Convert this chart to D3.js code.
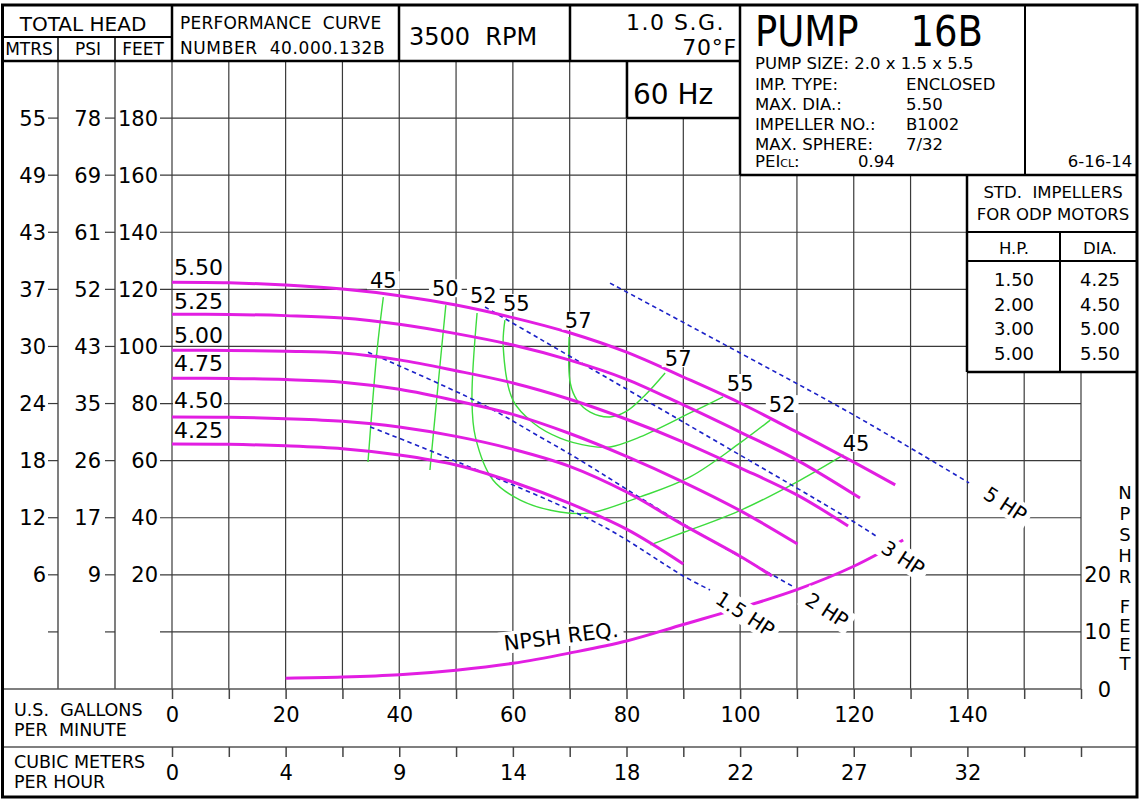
<!DOCTYPE html>
<html><head><meta charset="utf-8">
<script src="https://cdn.jsdelivr.net/npm/d3@7"></script>
<style>
html,body{margin:0;padding:0;background:#fff;}
svg{display:block;font-family:"DejaVu Sans",Verdana,sans-serif;}
text{white-space:pre;fill:#000;}
</style></head><body>
<svg id="c" width="1140" height="800"></svg>
<script>
// ---------------- DATA ----------------
const gpmGrid = [0,10,20,30,40,50,60,70,80,90,100,110,120,130,140,150,160];
const gpmLabels = [0,20,40,60,80,100,120,140];
const cmhLabels = ["0","4","9","14","18","22","27","32"];
const headGrid = [180,160,140,120,100,80,60,40,20,0];
const feetLabels = ["180","160","140","120","100","80","60","40","20",""];
const mtrsLabels = ["55","49","43","37","30","24","18","12","6",""];
const psiLabels  = ["78","69","61","52","43","35","26","17","9",""];
const npshTicks = [20,10,0];

const diameters = ["5.50","5.25","5.00","4.75","4.50","4.25"];
const head550 = [[0,122.5],[10,122.3],[20,121.5],[30,120.1],[40,117.8],[50,114.5],[60,110.1],[70,104.8],[80,98.0],[90,89.3],[100,80.2],[110,70.0],[120,59.5],[127.3,51.5]];
const head525 = [[0,111.3],[10,111.2],[20,110.8],[30,110.0],[40,107.8],[50,104.5],[60,100.5],[70,95.2],[80,88.5],[90,79.5],[100,70.0],[110,60.2],[121.1,46.9]];
const head500 = [[0,98.7],[10,98.6],[20,98.3],[30,97.7],[40,95.3],[50,91.5],[60,87.2],[70,81.5],[80,74.5],[90,66.5],[100,57.5],[110,48.0],[119,37.1]];
const head475 = [[0,88.9],[10,88.8],[20,88.4],[30,87.5],[40,85.0],[50,81.0],[60,76.2],[70,69.5],[80,61.5],[90,52.5],[100,42.5],[110.1,30.8]];
const head450 = [[0,75.3],[10,75.2],[20,74.7],[30,73.8],[40,71.8],[50,68.5],[60,64.0],[70,58.0],[80,49.0],[90,37.5],[100,26.5],[105.6,19.6]];
const head425 = [[0,65.8],[10,65.7],[20,65.2],[30,64.2],[40,62.0],[50,58.5],[60,52.5],[70,45.0],[80,36.0],[90,23.8]];
const headCurves = [head550,head525,head500,head475,head450,head425];

const eff45L = [[37.2,117.3],[36.1,98.7],[34.5,59.5]];
const eff50L = [[48.2,114.5],[47.0,90.0],[45.4,56.7]];
const eff52  = [[53.7,111.7],[52.8,81.2],[53.4,68.3],[56.5,53.2],[61.3,46.2],[68.3,42.0],[73.6,41.7],[82.4,47.3],[91.2,54.3],[100.0,66.2],[105.3,74.2]];
const eff55  = [[58.6,109.2],[58.3,99.8],[60.0,81.2],[63.6,73.2],[68.3,67.9],[73.6,65.1],[77.1,64.8],[82.4,68.3],[91.2,76.7],[97.0,82.3]];
const eff57  = [[69.9,103.3],[70.1,87.2],[71.3,81.2],[73.6,77.0],[77.1,75.3],[80.1,77.4],[83.3,83.0],[86.8,90.7]];
const eff45R = [[84.2,30.5],[90.2,35.0],[100.2,42.7],[110.6,53.2],[118.2,62.0]];
const effCurves = [eff45L,eff50L,eff52,eff55,eff57,eff45R];
const effTexts = ["45","50","52","55","57","57","55","52","45"];

const hp5  = [[77.1,122.2],[100,97.7],[120,76.0],[140.3,52.2]];
const hp3  = [[55.1,113.8],[64.8,102.6],[90,73.5],[118.9,39.9],[124,33.5]];
const hp2  = [[34.5,98.0],[54.2,80.2],[64.8,68.3],[71.8,60.2],[88.2,39.9],[109.4,15.8]];
const hp15 = [[34.9,71.8],[50.7,59.2],[75.4,37.5],[90.0,19.6],[94.7,14.7]];
const hpCurves = [hp5,hp3,hp2,hp15];
const hpTexts = ["5 HP","3 HP","2 HP","1.5 HP"];

const npsh = [[20,1.9],[30,2.1],[40,2.5],[50,3.3],[60,4.5],[70,6.3],[80,8.4],[90,11.3],[100,14.2],[110,17.4],[120,21.5],[128.7,26.1]];

const stdHP  = ["1.50","2.00","3.00","5.00"];
const stdDia = ["4.25","4.50","5.00","5.50"];
const infoLabels = ["IMP. TYPE:","MAX. DIA.:","IMPELLER NO.:","MAX. SPHERE:"];
const infoValues = ["ENCLOSED","5.50","B1002","7/32"];

// ---------------- SCALES ----------------
const svg = d3.select("#c");
const x  = d3.scaleLinear().domain([0,160]).range([172,1081]);
const y  = d3.scaleLinear().domain([-20,200]).range([689,61]);
const yN = d3.scaleLinear().domain([0,110]).range([689,61]);

const GRID = "#3a3a3a";

// ---------------- GRID ----------------
const gV = svg.append("g").attr("stroke",GRID).attr("stroke-width",1.2);
gpmGrid.forEach(q=>{
  let top = 61;
  if (q===90) top = 118;
  if (q>=100 && q<=140) top = 175;
  if (q>140) top = 372;
  gV.append("line").attr("x1",x(q)).attr("x2",x(q)).attr("y1",top).attr("y2",689);
});
const gH = svg.append("g").attr("stroke",GRID).attr("stroke-width",1.2);
headGrid.forEach(h=>{
  let right = 1081;
  if (h>=160) right = 740; else if (h>=100) right = 967;
  gH.append("line").attr("x1",160).attr("x2",right).attr("y1",y(h)).attr("y2",y(h));
  gH.append("line").attr("x1",48).attr("x2",58).attr("y1",y(h)).attr("y2",y(h));
  gH.append("line").attr("x1",105).attr("x2",115).attr("y1",y(h)).attr("y2",y(h));
});
svg.append("line").attr("x1",58).attr("x2",58).attr("y1",37).attr("y2",689).attr("stroke",GRID).attr("stroke-width",1.3);
svg.append("line").attr("x1",115).attr("x2",115).attr("y1",37).attr("y2",689).attr("stroke",GRID).attr("stroke-width",1.3);

// left labels
const gL = svg.append("g").attr("font-size",21);
headGrid.forEach((h,i)=>{
  const py = y(h)+7.5;
  gL.append("text").attr("x",46).attr("y",py).attr("text-anchor","end").text(mtrsLabels[i]);
  gL.append("text").attr("x",101).attr("y",py).attr("text-anchor","end").text(psiLabels[i]);
  gL.append("text").attr("x",158).attr("y",py).attr("text-anchor","end").text(feetLabels[i]);
});

// bottom lines
svg.append("line").attr("x1",2).attr("x2",1081).attr("y1",689).attr("y2",689).attr("stroke","#555").attr("stroke-width",1.6);
svg.append("line").attr("x1",2).attr("x2",1137).attr("y1",747).attr("y2",747).attr("stroke","#555").attr("stroke-width",1.6);

// bottom axes
const ax1 = svg.append("g").attr("transform","translate(0,689)")
  .call(d3.axisBottom(x).tickValues(gpmGrid).tickSize(10).tickPadding(8)
    .tickFormat(d=> gpmLabels.includes(d) ? String(d) : ""));
const ax2 = svg.append("g").attr("transform","translate(0,747)")
  .call(d3.axisBottom(x).tickValues(gpmGrid).tickSize(10).tickPadding(8)
    .tickFormat(d=> { const i = gpmLabels.indexOf(d); return i>=0 ? cmhLabels[i] : ""; }));
[ax1,ax2].forEach(a=>{
  a.select(".domain").remove();
  a.attr("font-family","DejaVu Sans").attr("font-size",21);
  a.selectAll(".tick line").attr("stroke","#444").attr("stroke-width",1.5);
  a.selectAll(".tick text").attr("fill","#000");
});
const gB = svg.append("g").attr("font-size",17.5);
gB.append("text").attr("x",14).attr("y",716).text("U.S.  GALLONS");
gB.append("text").attr("x",14).attr("y",736).text("PER  MINUTE");
gB.append("text").attr("x",14).attr("y",768).text("CUBIC METERS");
gB.append("text").attr("x",14).attr("y",788).text("PER HOUR");

// NPSH right axis
const gR = svg.append("g").attr("font-size",21);
npshTicks.forEach(v=>{
  gR.append("text").attr("x",1111).attr("y",yN(v)+7.5).attr("text-anchor","end").text(String(v));
});
const letters = [["N",492],["P",513],["S",534],["H",555],["R",576],["F",606],["E",625],["E",644],["T",663]];
const gLet = svg.append("g").attr("font-size",18).attr("text-anchor","middle");
letters.forEach(([c,py])=> gLet.append("text").attr("x",1125).attr("y",py+6.5).text(c));

// ---------------- CURVES ----------------
const line = d3.line().x(d=>x(d[0])).y(d=>y(d[1])).curve(d3.curveCatmullRom.alpha(0.5));
const lineN = d3.line().x(d=>x(d[0])).y(d=>yN(d[1])).curve(d3.curveCatmullRom.alpha(0.5));

svg.append("g").selectAll("path").data(effCurves).join("path")
  .attr("d",line).attr("fill","none").attr("stroke","#3ddc3d").attr("stroke-width",1.4);
svg.append("g").selectAll("path").data(hpCurves).join("path")
  .attr("d",line).attr("fill","none").attr("stroke","#1c22c8").attr("stroke-width",1.6)
  .attr("stroke-dasharray","4.5,3.5");
svg.append("g").selectAll("path").data(headCurves).join("path")
  .attr("d",line).attr("fill","none").attr("stroke","#e21ee2").attr("stroke-width",3);
svg.append("path").datum(npsh).attr("d",lineN).attr("fill","none").attr("stroke","#e21ee2").attr("stroke-width",3);

// ---------------- LABELS with knockouts ----------------
function ko(px, py, txt, fs, rot, anchor, padX, padY){
  const g = svg.append("g").attr("transform",`translate(${px},${py}) rotate(${rot||0})`);
  const r = g.append("rect").attr("fill","#fff");
  const t = g.append("text").attr("font-size",fs).attr("text-anchor",anchor||"middle").attr("y",0.365*fs).text(txt);
  const b = t.node().getBBox();
  r.attr("x",b.x-padX).attr("width",b.width+2*padX).attr("y",-0.38*fs-padY).attr("height",0.76*fs+2*padY);
  return g;
}
const diaBase = [275,309,343,371,408,438];
diameters.forEach((d,i)=> ko(174, diaBase[i]-8, d, 22, 0, "start", 1, 1));

const effPos = [[37.2,123.2],[48.1,120.4],[54.8,118.0],[60.6,115.2],[71.5,109.0],[89.1,95.9],[100.0,87.2],[107.4,79.8],[120.4,66.2]];
effTexts.forEach((t,i)=> ko(x(effPos[i][0]), y(effPos[i][1]), t, 21, 0, "middle", 3, 1));

const hpPos = [[146.7,44.8],[128.7,25.9],[115.3,7.7],[100.9,6.3]];
hpTexts.forEach((t,i)=> ko(x(hpPos[i][0]), y(hpPos[i][1]), t, 20, 33, "middle", 5, 4));

ko(561, 636, "NPSH REQ.", 21, -7, "middle", 5, 3);

// ---------------- HEADER & BOXES ----------------
const K = "#000";
function ln(x1,y1,x2,y2,w){ svg.append("line").attr("x1",x1).attr("y1",y1).attr("x2",x2).attr("y2",y2).attr("stroke",K).attr("stroke-width",w||2.5); }

svg.append("rect").attr("x",2).attr("y",5).attr("width",738).attr("height",56).attr("fill","#fff");
svg.append("rect").attr("x",740).attr("y",5).attr("width",397).attr("height",170).attr("fill","#fff");
svg.append("rect").attr("x",627).attr("y",61).attr("width",113).attr("height",57).attr("fill","#fff");
svg.append("rect").attr("x",967).attr("y",175).attr("width",170).attr("height",197).attr("fill","#fff");

ln(2,61,740,61,2.5);
ln(2,37,172,37,2);
ln(58,37,58,61,1.5); ln(115,37,115,61,1.5);
ln(172,5,172,61,2.5);
ln(399,5,399,61,2.5);
ln(570,5,570,61,2.5);
ln(740,5,740,175,2.5);
ln(627,61,627,118,2.5);
ln(627,118,740,118,2.5);
ln(740,175,1137,175,2.5);
ln(1025,5,1025,175,2);
ln(967,175,967,372,2.5);
ln(967,232,1137,232,2);
ln(967,261,1137,261,2);
ln(1060,232,1060,372,2);
ln(967,372,1137,372,2.5);

const gT = svg.append("g");
gT.append("text").attr("x",83).attr("y",31).attr("font-size",20).attr("text-anchor","middle").text("TOTAL HEAD");
gT.append("text").attr("x",29).attr("y",55).attr("font-size",17).attr("text-anchor","middle").text("MTRS");
gT.append("text").attr("x",88).attr("y",55).attr("font-size",17).attr("text-anchor","middle").text("PSI");
gT.append("text").attr("x",143).attr("y",55).attr("font-size",17).attr("text-anchor","middle").text("FEET");
gT.append("text").attr("x",180).attr("y",29).attr("font-size",17).attr("letter-spacing",0.2).text("PERFORMANCE  CURVE");
gT.append("text").attr("x",180).attr("y",54).attr("font-size",17).attr("letter-spacing",0.6).text("NUMBER  40.000.132B");
gT.append("text").attr("x",409).attr("y",45).attr("font-size",24).text("3500  RPM");
gT.append("text").attr("x",725).attr("y",30).attr("font-size",22).attr("letter-spacing",1.5).attr("text-anchor","end").text("1.0 S.G.");
gT.append("text").attr("x",737).attr("y",55).attr("font-size",22).attr("letter-spacing",0.8).attr("text-anchor","end").text("70°F");
gT.append("text").attr("x",633).attr("y",104).attr("font-size",28).text("60 Hz");
gT.append("text").attr("transform","translate(755,46) scale(1,1.14)").attr("font-size",37).text("PUMP");
gT.append("text").attr("transform","translate(983,46) scale(1,1.14)").attr("font-size",37).attr("text-anchor","end").text("16B");
gT.append("text").attr("x",755).attr("y",69).attr("font-size",16.5).text("PUMP SIZE: 2.0 x 1.5 x 5.5");
infoLabels.forEach((l,i)=>{
  gT.append("text").attr("x",755).attr("y",90+20*i).attr("font-size",16.5).text(l);
  gT.append("text").attr("x",906).attr("y",90+20*i).attr("font-size",16.5).text(infoValues[i]);
});
const pei = gT.append("text").attr("x",755).attr("y",167).attr("font-size",16.5);
pei.append("tspan").text("PEI");
pei.append("tspan").attr("font-size",11).text("CL");
pei.append("tspan").attr("font-size",16.5).text(":");
gT.append("text").attr("x",858).attr("y",167).attr("font-size",16.5).text("0.94");
gT.append("text").attr("x",1100).attr("y",167).attr("font-size",16.5).attr("text-anchor","middle").text("6-16-14");
gT.append("text").attr("x",1053).attr("y",198).attr("font-size",16.5).attr("text-anchor","middle").text("STD.  IMPELLERS");
gT.append("text").attr("x",1053).attr("y",220).attr("font-size",16.5).attr("text-anchor","middle").text("FOR ODP MOTORS");
gT.append("text").attr("x",1014).attr("y",254).attr("font-size",16.5).attr("text-anchor","middle").text("H.P.");
gT.append("text").attr("x",1100).attr("y",254).attr("font-size",16.5).attr("text-anchor","middle").text("DIA.");
stdHP.forEach((v,i)=>{
  gT.append("text").attr("x",1014).attr("y",286+24.7*i).attr("font-size",18).attr("text-anchor","middle").text(v);
  gT.append("text").attr("x",1100).attr("y",286+24.7*i).attr("font-size",18).attr("text-anchor","middle").text(stdDia[i]);
});

svg.append("rect").attr("x",2.5).attr("y",5).attr("width",1134.5).attr("height",792).attr("fill","none").attr("stroke",K).attr("stroke-width",3);
</script>
</body></html>
